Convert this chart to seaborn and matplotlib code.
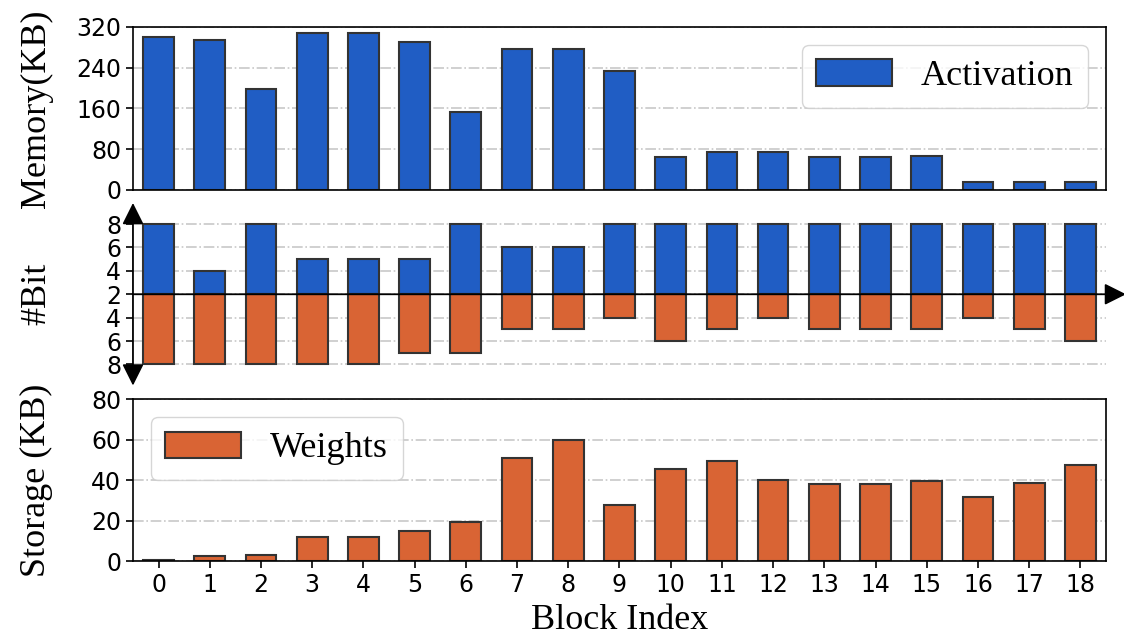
import matplotlib
matplotlib.use("Agg")
import matplotlib.pyplot as plt
import seaborn as sns

# Per-block statistics of the network
blocks = list(range(19))
activation_kb = [300, 294, 199, 308, 308, 291, 154, 276, 276, 233,
                 64, 75, 75, 64, 64, 66, 16, 16, 16]
weight_kb = [0.5, 2.6, 3.1, 11.8, 11.8, 14.6, 19.3, 51.1, 59.8, 27.7,
             45.4, 49.5, 39.8, 37.9, 37.9, 39.7, 31.8, 38.7, 47.3]
activation_bits = [8, 4, 8, 5, 5, 5, 8, 6, 6, 8, 8, 8, 8, 8, 8, 8, 8, 8, 8]
weight_bits = [8, 8, 8, 8, 8, 7, 7, 5, 5, 4, 6, 5, 4, 5, 5, 5, 4, 5, 6]
bit_tick_labels = ["8", "6", "4", "2", "4", "6", "8"]

BLUE = "#205DC4"
ORANGE = "#D96434"
EDGE = "#333333"
SERIF = "Liberation Serif"

plt.rcParams["font.family"] = ["DejaVu Sans"]
plt.rcParams["xtick.labelsize"] = 17
plt.rcParams["ytick.labelsize"] = 17
plt.rcParams["xtick.major.size"] = 5
plt.rcParams["ytick.major.size"] = 5
plt.rcParams["xtick.major.width"] = 1.2
plt.rcParams["ytick.major.width"] = 1.2
plt.rcParams["axes.linewidth"] = 1.2

fig = plt.figure(figsize=(11.24, 6.35), dpi=100)
left, width = 0.1183, 0.8657
ax_mem = fig.add_axes([left, 0.7008, width, 0.2567])
ax_bit = fig.add_axes([left, 0.4076, width, 0.2580])
ax_w = fig.add_axes([left, 0.1165, width, 0.2551])

bar_kw = dict(width=0.6, edgecolor=EDGE, linewidth=1.5, errorbar=None,
              saturation=1)
grid_kw = dict(linestyle="-.", color="#c8c8c8", linewidth=1.2)

# Activation memory
sns.barplot(x=blocks, y=activation_kb, color=BLUE, label="Activation",
            ax=ax_mem, **bar_kw)
ax_mem.set_ylim(0, 320)
ax_mem.set_yticks([0, 80, 160, 240, 320])
ax_mem.tick_params(axis="x", bottom=False, labelbottom=False)
ax_mem.set_xlim(-0.5, 18.5)

# Bit widths: activations grow upward from 2, weights grow downward from 2
sns.barplot(x=blocks, y=[a - 2 for a in activation_bits], color=BLUE,
            ax=ax_bit, **bar_kw)
sns.barplot(x=blocks, y=[-(w - 2) for w in weight_bits], color=ORANGE,
            ax=ax_bit, **bar_kw)
ax_bit.set_ylim(-7, 7)
ax_bit.set_yticks([6, 4, 2, 0, -2, -4, -6])
ax_bit.set_yticklabels(bit_tick_labels)
ax_bit.tick_params(axis="x", bottom=False, labelbottom=False)
ax_bit.set_xlim(-0.5, 18.5)
for side in ["top", "right", "bottom", "left"]:
    ax_bit.spines[side].set_visible(False)
arrow = dict(arrowstyle="<|-|>,head_length=0.66,head_width=0.33",
             color="black", lw=1.3, shrinkA=0, shrinkB=0, mutation_scale=20)
ax_bit.annotate("", xy=(-0.5, 7.8), xytext=(-0.5, -7.8),
                arrowprops=arrow, annotation_clip=False)
arrow_r = dict(arrowstyle="-|>,head_length=0.66,head_width=0.33",
               color="black", lw=1.3, shrinkA=0, shrinkB=0, mutation_scale=20)
ax_bit.annotate("", xy=(18.89, 0), xytext=(-0.5, 0),
                arrowprops=arrow_r, annotation_clip=False)

# Weight storage
sns.barplot(x=blocks, y=weight_kb, color=ORANGE, label="Weights",
            ax=ax_w, **bar_kw)
ax_w.set_ylim(0, 80)
ax_w.set_yticks([0, 20, 40, 60, 80])
ax_w.set_xlim(-0.5, 18.5)

for ax in (ax_mem, ax_bit, ax_w):
    ax.set_axisbelow(True)
    ax.yaxis.grid(True, **grid_kw)
    ax.xaxis.grid(False)

legend_kw = dict(prop={"family": SERIF, "size": 26}, handlelength=2.1,
                 handleheight=0.75, handletextpad=0.8, borderpad=0.4)
ax_mem.legend(loc="upper right", **legend_kw)
ax_w.legend(loc="upper left", **legend_kw)

label_font = {"family": SERIF, "size": 26}
ax_mem.set_ylabel("Memory(KB)", fontdict=label_font)
ax_bit.set_ylabel("#Bit", fontdict=label_font)
ax_w.set_ylabel("Storage (KB)", fontdict=label_font)
for ax in (ax_mem, ax_bit, ax_w):
    ax.yaxis.set_label_coords(-0.082, 0.5)
ax_w.set_xlabel("Block Index", fontdict=label_font, labelpad=5)

fig.savefig("out.png", dpi=100)
